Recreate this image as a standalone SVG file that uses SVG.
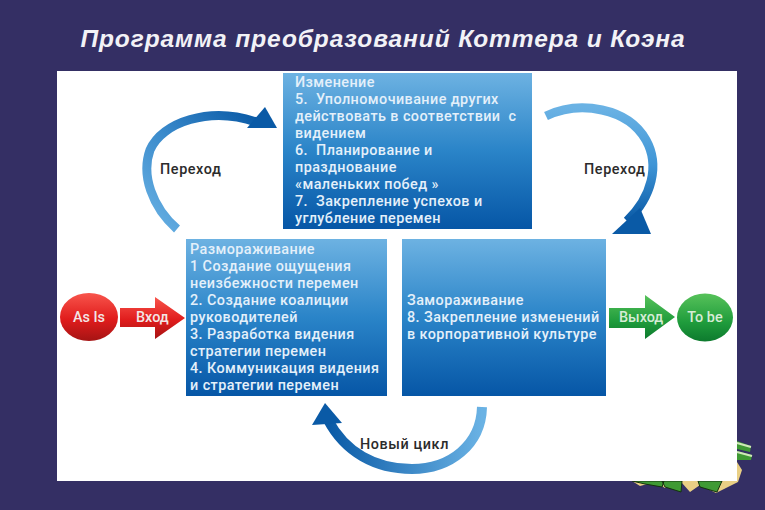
<svg xmlns="http://www.w3.org/2000/svg" width="765" height="510" viewBox="0 0 765 510">
<style>
.t{font-family:Roboto,"Liberation Sans",sans-serif;font-size:14.4px;fill:#e4f0fa;font-weight:500;white-space:pre;letter-spacing:.42px}
.d{font-family:Roboto,"Liberation Sans",sans-serif;font-size:14.4px;fill:#2b2b2b;font-weight:500;letter-spacing:.6px}
.w{font-family:Roboto,"Liberation Sans",sans-serif;font-size:14.4px;fill:#f2e6e6;font-weight:500}
.g{font-family:Roboto,"Liberation Sans",sans-serif;font-size:14.4px;fill:#d6ecd6;font-weight:500}
.o{stroke:#14300f;stroke-width:1}
</style>
<defs>
<linearGradient id="box" x1="0" y1="0" x2="0" y2="1"><stop offset="0" stop-color="#6db2e2"/><stop offset=".5" stop-color="#2a84c8"/><stop offset="1" stop-color="#0656a6"/></linearGradient>
<linearGradient id="arcL" x1="0" y1="1" x2="1" y2="0"><stop offset="0" stop-color="#6ab2e4"/><stop offset=".5" stop-color="#3a8acb"/><stop offset="1" stop-color="#0a5aa6"/></linearGradient>
<linearGradient id="arcR" x1="0" y1="0" x2="0" y2="1"><stop offset="0" stop-color="#6ab2e4"/><stop offset=".5" stop-color="#3f95d6"/><stop offset="1" stop-color="#0a5aa6"/></linearGradient>
<linearGradient id="arcB" x1="1" y1="0" x2="0" y2="0"><stop offset="0" stop-color="#6ab2e4"/><stop offset="1" stop-color="#0a5aa6"/></linearGradient>
<linearGradient id="red" x1="0" y1="0" x2="0" y2="1"><stop offset="0" stop-color="#f8554c"/><stop offset=".55" stop-color="#e01c1c"/><stop offset="1" stop-color="#a51414"/></linearGradient>
<linearGradient id="green" x1="0" y1="0" x2="0" y2="1"><stop offset="0" stop-color="#57c25a"/><stop offset=".6" stop-color="#1f9c3c"/><stop offset="1" stop-color="#0d7a2e"/></linearGradient>
</defs>
<rect width="765" height="510" fill="#342f64"/>
<text x="383" y="47" text-anchor="middle" font-family="'Liberation Sans',Arial,sans-serif" font-size="24.5" font-weight="bold" font-style="italic" fill="#f2f2f6" letter-spacing=".9">Программа преобразований Коттера и Коэна</text>
<g id="ornament">
<path d="M632 481L640 486 655 482 665 488 682 483 690 492 700 485 716 493 726 488 738 482 742 470 737 462V481Z" fill="#e9cf85"/>
<path d="M632 481H664L662 487 645 484ZM662 481H682L681 492 665 487ZM698 481H722L717 492 700 487Z" fill="#3f9a34" class="o"/>
<path d="M737 441L751 446 750 452 737 449ZM737 451L752 455 751 460 737 460Z" fill="#3f9a34"/>
<path d="M737 443L751 447M737 452L752 456" stroke="#cfe9b8" stroke-width="2"/>
</g>
<rect x="57" y="71" width="680" height="410" fill="#fff"/>
<g id="connectors" fill="none">
<path d="M177 229C152 207 141 175 150 150C162 122 210 106 256 122" stroke="url(#arcL)" stroke-width="9"/>
<path d="M546 116C580 100 628 108 646 140C660 165 652 197 627 221" stroke="url(#arcR)" stroke-width="9"/>
<path d="M482 407C481 445 450 469 412 469C375 469 345 452 328 420" stroke="url(#arcB)" stroke-width="10"/>
<path d="M277 128L265 107 247 128Z" fill="#0a5aa6"/>
<path d="M612 234L651 234 640 208Z" fill="#0a5aa6"/>
<path d="M325 403L312 425 342 423Z" fill="#0a5aa6"/>
</g>
<g id="n-change"><rect x="283" y="73" width="249" height="156" fill="url(#box)"/>
<text class="t"><tspan x="295" y="87">Изменение</tspan><tspan x="295" y="104">5.  Уполномочивание других</tspan><tspan x="295" y="121">действовать в соответствии  с</tspan><tspan x="295" y="138">видением</tspan><tspan x="295" y="155">6.  Планирование и</tspan><tspan x="295" y="172">празднование</tspan><tspan x="295" y="189">«маленьких побед »</tspan><tspan x="295" y="206">7.  Закрепление успехов и</tspan><tspan x="295" y="223">углубление перемен</tspan></text></g>
<g id="n-unfreeze"><rect x="186" y="239" width="201" height="157" fill="url(#box)"/>
<text class="t"><tspan x="190" y="254">Размораживание</tspan><tspan x="190" y="271">1 Создание ощущения</tspan><tspan x="190" y="288">неизбежности перемен</tspan><tspan x="190" y="305">2. Создание коалиции</tspan><tspan x="190" y="322">руководителей</tspan><tspan x="190" y="339">3. Разработка видения</tspan><tspan x="190" y="356">стратегии перемен</tspan><tspan x="190" y="373">4. Коммуникация видения</tspan><tspan x="190" y="390">и стратегии перемен</tspan></text></g>
<g id="n-freeze"><rect x="402" y="239" width="204" height="157" fill="url(#box)"/>
<text class="t"><tspan x="407" y="305">Замораживание</tspan><tspan x="407" y="322">8. Закрепление изменений</tspan><tspan x="407" y="339">в корпоративной культуре</tspan></text></g>
<g id="n-asis"><ellipse cx="89" cy="317" rx="29" ry="24" fill="url(#red)"/><text class="w" x="89" y="322" text-anchor="middle">As Is</text></g>
<g id="n-vhod"><path d="M120 308H155V297L185 318 155 339V327H120Z" fill="url(#red)"/><text class="w" x="136" y="322">Вход</text></g>
<g id="n-vyhod"><path d="M609 308H645V295L675 317 645 339V328H609Z" fill="url(#green)"/><text class="g" x="619" y="322">Выход</text></g>
<g id="n-tobe"><ellipse cx="705" cy="317.5" rx="28" ry="24" fill="url(#green)"/><text class="g" x="705" y="322" text-anchor="middle">To be</text></g>
<g id="labels"><text class="d" x="160" y="174">Переход</text><text class="d" x="584" y="174">Переход</text><text class="d" x="360" y="449">Новый цикл</text></g>
</svg>
